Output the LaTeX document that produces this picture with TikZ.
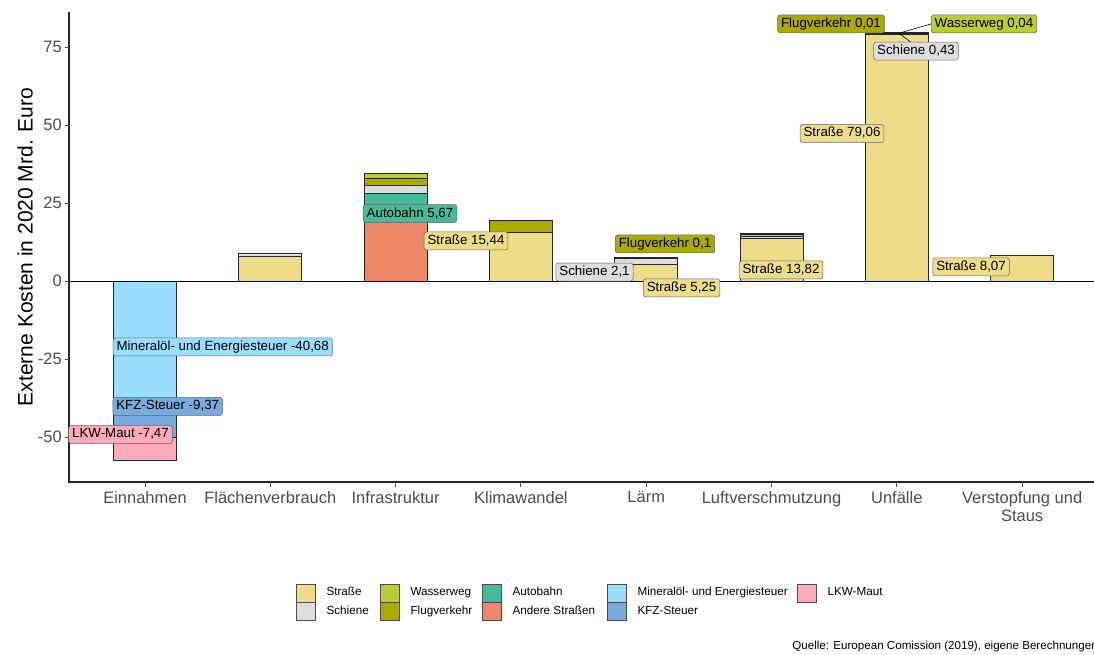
\documentclass[tikz,border=0pt]{standalone}
\usepackage{fontspec}
\setmainfont{Liberation Sans}
\usepackage{xcolor}
\usetikzlibrary{positioning}
\usetikzlibrary{calc}

\definecolor{strasse}{HTML}{EEDD88}
\definecolor{schiene}{HTML}{DDDDDD}
\definecolor{wasser}{HTML}{BBCC33}
\definecolor{flug}{HTML}{AAAA00}
\definecolor{autobahn}{HTML}{44BB99}
\definecolor{andere}{HTML}{EE8866}
\definecolor{oel}{HTML}{99DDFF}
\definecolor{kfz}{HTML}{77AADD}
\definecolor{maut}{HTML}{FFAABB}
\definecolor{axisgrey}{HTML}{4D4D4D}

% one stacked piece of a bar: centre, from, to, fill
\newcommand{\stackseg}[4]{\filldraw[fill=#4,draw=black!85,line width=0.7pt] (#1-31.5,#2) rectangle (#1+31.5,#3);}

\begin{document}
\begin{tikzpicture}[x=1pt,y=1pt,
                    lbl/.style={draw=black!60,line width=0.5pt,rounded corners=2.5pt,inner xsep=3.5pt,inner ysep=2.5pt,
                                text height=10pt,text depth=3pt,font=\fontsize{13.3}{15}\selectfont},
                    ylbl/.style={anchor=east,inner sep=0pt,text=axisgrey,font=\fontsize{16.5}{18}\selectfont},
                    catlbl/.style={anchor=north,inner sep=0pt,align=center,text=axisgrey,font=\fontsize{16.5}{18.5}\selectfont},
                    keybox/.style={draw=black!70,line width=0.6pt,minimum width=19pt,minimum height=18pt,inner sep=0pt},
                    keytext/.style={right=11pt of #1,inner sep=0pt,text height=8.5pt,text depth=2.5pt,font=\fontsize{11.7}{13}\selectfont},
                    segline/.style={black,line width=0.6pt}]
  \useasboundingbox (0,0) rectangle (1094,655);

  \begin{scope}[shift={(0pt,374pt)},y=3.12pt]
    % Einnahmen
    \stackseg{145}{0}{-40.68}{oel}
    \stackseg{145}{-40.68}{-50.05}{kfz}
    \stackseg{145}{-50.05}{-57.52}{maut}
    % Flaechenverbrauch
    \stackseg{270.3}{0}{7.9}{strasse}
    \stackseg{270.3}{7.9}{8.9}{schiene}
    % Infrastruktur
    \stackseg{395.6}{0}{22.4}{andere}
    \stackseg{395.6}{22.4}{28.07}{autobahn}
    \stackseg{395.6}{28.07}{30.8}{schiene}
    \stackseg{395.6}{30.8}{32.9}{flug}
    \stackseg{395.6}{32.9}{34.5}{wasser}
    % Klimawandel
    \stackseg{520.9}{0}{15.44}{strasse}
    \stackseg{520.9}{15.44}{19.5}{flug}
    % Laerm
    \stackseg{646.2}{0}{5.25}{strasse}
    \stackseg{646.2}{5.25}{7.35}{schiene}
    \stackseg{646.2}{7.35}{7.45}{flug}
    % Luftverschmutzung
    \stackseg{771.5}{0}{13.82}{strasse}
    \stackseg{771.5}{13.82}{14.2}{schiene}
    \stackseg{771.5}{14.2}{14.9}{wasser}
    \stackseg{771.5}{14.9}{15.4}{flug}
    % Unfaelle
    \stackseg{896.8}{0}{79.06}{strasse}
    \stackseg{896.8}{79.06}{79.49}{schiene}
    \stackseg{896.8}{79.49}{79.53}{wasser}
    \stackseg{896.8}{79.53}{79.54}{flug}
    % Verstopfung und Staus
    \stackseg{1022.1}{0}{8.07}{strasse}

    \draw[black,line width=0.8pt] (69,0) -- (1094,0);
    \draw[black!85,line width=1.2pt] (69,86.2) -- (69,-64.4) -- (1094,-64.4);

    \foreach \v in {-50,-25,0,25,50,75}{
      \draw[axisgrey,line width=0.9pt] (64.5,\v) -- (69,\v);
      \node[ylbl] (y\v) at (62,\v) {\v};
    }
    \foreach \x/\name [count=\i] in {145/Einnahmen,270.3/Flächenverbrauch,395.6/Infrastruktur,520.9/Klimawandel,
                                      646.2/Lärm,771.5/Luftverschmutzung,896.8/Unfälle,1022.1/{Verstopfung und\\Staus}}{
      \draw[axisgrey,line width=0.9pt] (\x,-64.4) -- (\x,-66);
      \node[catlbl] (cat\i) at (\x,-67.4) {\name};
    }
    \node[rotate=90,inner sep=0pt,font=\fontsize{21}{21}\selectfont] (ytitle) at (25,10.9) {Externe Kosten in 2020 Mrd. Euro};

    \coordinate (uTopS) at (899,79.4);
    \coordinate (uTopW) at (900,79.5);

    \node[lbl,fill=oel] (lOel) at (222.7,-21.15) {Mineralöl- und Energiesteuer -40,68};
    \node[lbl,fill=kfz] (lKfz) at (167.7,-40.22) {KFZ-Steuer -9,37};
    \node[lbl,fill=maut] (lMaut) at (120.5,-49.2) {LKW-Maut -7,47};
    \node[lbl,fill=autobahn] (lAuto) at (410,21.63) {Autobahn 5,67};
    \node[lbl,fill=strasse] (lKlima) at (466,12.82) {Straße 15,44};
    \node[lbl,fill=schiene] (lLaermS) at (594.5,2.88) {Schiene 2,1};
    \node[lbl,fill=flug] (lLaermF) at (665,11.86) {Flugverkehr 0,1};
    \node[lbl,fill=strasse] (lLaermR) at (681.5,-2.24) {Straße 5,25};
    \node[lbl,fill=strasse] (lLuft) at (781,3.53) {Straße 13,82};
    \node[lbl,fill=strasse] (lUnfR) at (842,47.28) {Straße 79,06};
    \node[lbl,fill=flug] (lUnfF) at (831,82.4) {Flugverkehr 0,01};
    \node[lbl,fill=wasser] (lUnfW) at (984,82.4) {Wasserweg 0,04};
    \node[lbl,fill=strasse] (lStau) at (971,4.49) {Straße 8,07};
    \draw[segline] (lUnfW.west) -- (uTopW);
    \draw[segline] (uTopS) -- ($(uTopS)+(12,-2.9)$) coordinate (sEnd);
    \node[lbl,fill=schiene] (lUnfS) at (916,73.7) {Schiene 0,43};
  \end{scope}

  % legend
  \node[keybox,fill=strasse] (kStr) at (305.5,62) {};
  \node[keybox,fill=schiene,below=0pt of kStr] (kSch) {};
  \node[keybox,fill=wasser] (kWas) at (389.5,62) {};
  \node[keybox,fill=flug,below=0pt of kWas] (kFlug) {};
  \node[keybox,fill=autobahn] (kAuto) at (491.5,62) {};
  \node[keybox,fill=andere,below=0pt of kAuto] (kAnd) {};
  \node[keybox,fill=oel] (kOel) at (616.5,62) {};
  \node[keybox,fill=kfz,below=0pt of kOel] (kKfz) {};
  \node[keybox,fill=maut] (kMaut) at (806.5,62) {};

  \node[keytext=kStr] (tStr) {Straße};
  \node[keytext=kSch] (tSch) {Schiene};
  \node[keytext=kWas] (tWas) {Wasserweg};
  \node[keytext=kFlug] (tFlug) {Flugverkehr};
  \node[keytext=kAuto] (tAuto) {Autobahn};
  \node[keytext=kAnd] (tAnd) {Andere Straßen};
  \node[keytext=kOel] (tOel) {Mineralöl- und Energiesteuer};
  \node[keytext=kKfz] (tKfz) {KFZ-Steuer};
  \node[keytext=kMaut] (tMaut) {LKW-Maut};

  \node[anchor=east,inner sep=0pt,font=\fontsize{11.6}{13}\selectfont] (quelle) at (1098,8) {Quelle: European Comission (2019), eigene Berechnungen};
\end{tikzpicture}
\end{document}
